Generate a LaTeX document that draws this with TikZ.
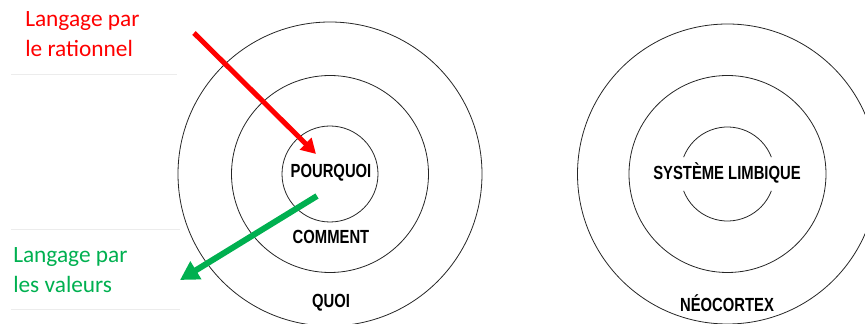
\documentclass[tikz,border=0pt]{standalone}
\usepackage{fontspec}
\setmainfont{Carlito}
\newfontfamily\ringfont[FakeStretch=0.78]{Liberation Sans}
\usepackage{tikz}
\usetikzlibrary{
  arrows.meta,
  positioning
}
\definecolor{langred}{RGB}{255,0,0}
\definecolor{langgreen}{RGB}{0,176,80}
\definecolor{tablegray}{RGB}{236,236,236}

\begin{document}
\begin{tikzpicture}[
  x=0.75pt, y=-0.75pt,
  ring/.style={draw=black!85, line width=0.6pt},
  layer/.style={inner sep=0pt, font=\ringfont\bfseries\fontsize{14.25}{16}\selectfont},
  note/.style={align=left, anchor=west, inner sep=0pt, font=\fontsize{17.5}{22.5}\selectfont},
  tablerule/.style={tablegray, line width=0.75pt},
  redarrow/.style={-{Triangle[length=11pt, width=12pt]}, langred, line width=3.75pt},
  greenarrow/.style={-{Triangle[length=14pt, width=15pt]}, langgreen, line width=4.5pt},
]
\useasboundingbox (0,0) rectangle (865,324);

% Table rules behind the labels
\draw[tablerule] (11,75) -- (177,75);
\draw[tablerule] (11,230) -- (180,230);
\draw[tablerule] (11,310) -- (180,310);

% Left rings
\coordinate (pc) at (330,174);
\draw[ring] (pc) circle[radius=152];
\draw[ring] (pc) circle[radius=98.5];
\draw[ring] (pc) circle[radius=48];

% Right rings
\coordinate (nc) at (727.5,174);
\draw[ring] (nc) circle[radius=150];
\draw[ring] (nc) circle[radius=98.5];
\draw[ring] ([shift={(21:47)}]nc) arc[start angle=21, end angle=159, radius=47];
\draw[ring] ([shift={(-21:47)}]nc) arc[start angle=-21, end angle=-159, radius=47];

% Labels in the rings
\node[layer] (pourquoi) at (331,173) {POURQUOI};
\node[layer] (comment) at (331,237) {COMMENT};
\node[layer] (quoi) at (331,303) {QUOI};
\node[layer] (limbique) at (727,173) {SYSTÈME LIMBIQUE};
\node[layer] (neocortex) at (727,303) {NÉOCORTEX};

% Side notes
\node[note, text=langred] (rationnel) at (25,34.5) {Langage par\\le rationnel};
\node[note, text=langgreen] (valeurs) at (13,270.5) {Langage par\\les valeurs};

% Arrows
\coordinate (redstart) at (194,33);
\coordinate (redtip) at (316,154);
\coordinate (greenstart) at (317,196);
\coordinate (greentip) at (180,280);
\draw[redarrow] (redstart) -- (redtip);
\draw[greenarrow] (greenstart) -- (greentip);
\end{tikzpicture}
\end{document}
